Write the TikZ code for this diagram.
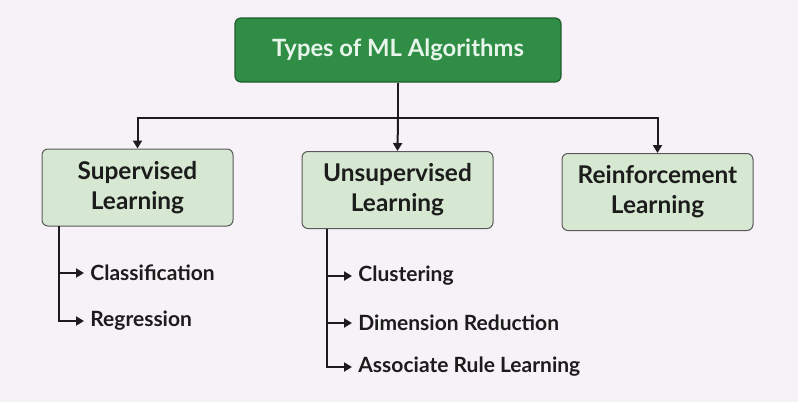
\documentclass[tikz,border=0pt]{standalone}
\usepackage{fontspec}
\setmainfont{Lato}
\usetikzlibrary{positioning,arrows.meta}
\definecolor{pagebg}{HTML}{F7F2F7}
\definecolor{rootfill}{HTML}{2F8D46}
\definecolor{rootedge}{HTML}{1F5E2E}
\definecolor{roottext}{HTML}{E8F5EA}
\definecolor{typefill}{HTML}{D6E8D2}
\definecolor{typeedge}{HTML}{5A5A5A}
\definecolor{inkdark}{HTML}{1C1C1C}

\begin{document}
\begin{tikzpicture}[
  x=0.5pt, y=-0.5pt,
  root/.style={draw=rootedge, fill=rootfill, rounded corners=3pt, line width=0.6pt, text=roottext, font=\bfseries\fontsize{11.9}{14}\selectfont, minimum width=163pt, minimum height=32pt},
  kind/.style={draw=typeedge, fill=typefill, rounded corners=3pt, line width=0.5pt, text=inkdark, align=center, font=\bfseries\fontsize{12.2}{15}\selectfont, minimum width=95.5pt, minimum height=38.5pt},
  leaf/.style={anchor=west, inner sep=3pt, text=inkdark, font=\bfseries\fontsize{10.5}{12}\selectfont},
  flow/.style={-{Triangle[length=4pt,width=4.5pt]}, line width=1pt, draw=inkdark},
  link/.style={line width=1pt, draw=inkdark}
]
  \fill[pagebg] (0,0) rectangle (798,402);
  \node[root] (ml) at (398,50) {Types of ML Algorithms};
  \node[kind] (sup) at (137.5,187.5) {Supervised\\Learning};
  \node[kind] (unsup) at (397.5,190) {Unsupervised\\Learning};
  \node[kind] (rein) at (657.5,192) {Reinforcement\\Learning};
  % split from the root
  \coordinate (hub) at (398,118);
  \draw[link] (ml) -- (hub);
  \draw[flow] (hub) -| (sup.north);
  \draw[flow] (hub) -- (unsup.north);
  \draw[flow] (hub) -| (rein.north);
  % supervised branches
  \node[leaf] (cls) at (84,273) {Classification};
  \node[leaf] (reg) at (84,321) {Regression};
  \coordinate (suptrunk) at (59,226);
  \draw[flow] (suptrunk) |- (cls.west);
  \draw[flow] (suptrunk) |- (reg.west);
  % unsupervised branches
  \node[leaf] (clu) at (352,276) {Clustering};
  \node[leaf] (dim) at (352,323) {Dimension Reduction};
  \node[leaf] (arl) at (352,367) {Associate Rule Learning};
  \coordinate (unsuptrunk) at (327,229);
  \draw[flow] (unsuptrunk) |- (clu.west);
  \draw[flow] (unsuptrunk) |- (dim.west);
  \draw[flow] (unsuptrunk) |- (arl.west);
\end{tikzpicture}
\end{document}
